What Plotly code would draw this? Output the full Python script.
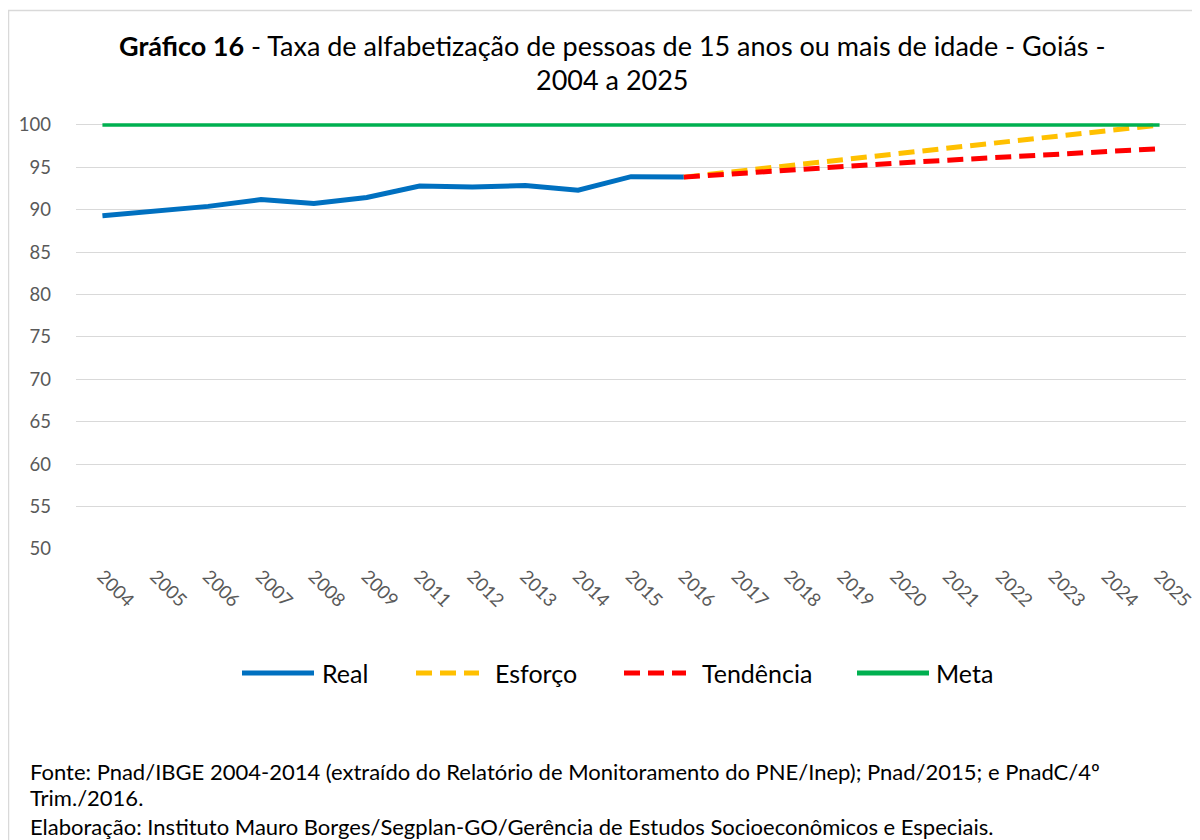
import plotly.graph_objects as go

# ---------------- data ----------------
categories = ["2004", "2005", "2006", "2007", "2008", "2009", "2011", "2012", "2013",
              "2014", "2015", "2016", "2017", "2018", "2019", "2020", "2021", "2022",
              "2023", "2024", "2025"]
real = [89.3, 89.85, 90.4, 91.2, 90.75, 91.45, 92.8, 92.7, 92.85, 92.3, 93.9, 93.85,
        None, None, None, None, None, None, None, None, None]
esforco = [None] * 11 + [93.85, 94.55, 95.25, 95.95, 96.65, 97.35, 98.0, 98.7, 99.35, 100.0]
tendencia = [None] * 11 + [93.85, 94.3, 94.7, 95.1, 95.5, 95.85, 96.2, 96.55, 96.9, 97.2]
meta = [100.0] * 21

series_names = ["Real", "Esforço", "Tendência", "Meta"]
series_colors = ["#0070C0", "#FFC000", "#FF0000", "#00B050"]

title_line1 = "<b>Gráfico 16</b> - Taxa de alfabetização de pessoas de 15 anos ou mais de idade - Goiás -"
title_line2 = "2004 a 2025"
footer_lines = [
    "Fonte: Pnad/IBGE 2004-2014 (extraído do Relatório de Monitoramento do PNE/Inep); Pnad/2015; e PnadC/4º",
    "Trim./2016.",
    "Elaboração: Instituto Mauro Borges/Segplan-GO/Gerência de Estudos Socioeconômicos e Especiais.",
]

# ---------------- layout geometry (reference pixels, page has 8px body margin) ----------------
OFF = 8
W, H = 1200 - OFF, 840 - OFF
PL, PR = 76 - OFF, 1186 - OFF
PB = 549 - OFF
TOP100 = 125 - OFF
Y0, Y1 = 50, 100.35
PT = PB - (Y1 - Y0) * (PB - TOP100) / 50.0
FONT = "Lato, 'Open Sans', sans-serif"


def px(x):
    # x given in reference-picture pixels
    return (x - OFF - PL) / (PR - PL)


def py(y):
    # y given in reference-picture pixels
    return (PB - (y - OFF)) / (PB - PT)


fig = go.Figure()
fig.add_trace(go.Scatter(x=categories, y=real, mode="lines", name=series_names[0],
                         line=dict(color=series_colors[0], width=5)))
fig.add_trace(go.Scatter(x=categories, y=esforco, mode="lines", name=series_names[1],
                         line=dict(color=series_colors[1], width=5, dash="16px,8px")))
fig.add_trace(go.Scatter(x=categories, y=tendencia, mode="lines", name=series_names[2],
                         line=dict(color=series_colors[2], width=5, dash="16px,8px")))
fig.add_trace(go.Scatter(x=categories, y=meta, mode="lines", name=series_names[3],
                         line=dict(color=series_colors[3], width=3.5)))

annotations = [
    dict(text=title_line1, x=px(612), y=py(46), xref="paper", yref="paper",
         showarrow=False, xanchor="center", yanchor="middle",
         font=dict(family=FONT, size=27, color="#000000")),
    dict(text=title_line2, x=px(612), y=py(80), xref="paper", yref="paper",
         showarrow=False, xanchor="center", yanchor="middle",
         font=dict(family=FONT, size=27, color="#000000")),
]
for txt, yy in zip(footer_lines, [771, 797, 826]):
    annotations.append(dict(text=txt, x=px(28), y=py(yy), xref="paper", yref="paper",
                            showarrow=False, xanchor="left", yanchor="middle",
                            font=dict(family=FONT, size=22, color="#000000")))

shapes = [
    dict(type="rect", xref="paper", yref="paper", x0=px(8.5), x1=px(1240),
         y0=py(10.5), y1=py(900), line=dict(color="#D9D9D9", width=1.5),
         fillcolor="rgba(0,0,0,0)", layer="below"),
]

# custom legend
legend_y = 673
legend_items = [
    (242, 314, 320, "solid"),
    (416, 479, 493, "16px,8px"),
    (624, 686, 700, "16px,8px"),
    (857, 929, 934, "solid"),
]
for (lx0, lx1, tx, dash), name, color in zip(legend_items, series_names, series_colors):
    shapes.append(dict(type="line", xref="paper", yref="paper", x0=px(lx0), x1=px(lx1),
                       y0=py(legend_y), y1=py(legend_y),
                       line=dict(color=color, width=5, dash=dash)))
    annotations.append(dict(text=name, x=px(tx), y=py(legend_y), xref="paper", yref="paper",
                            showarrow=False, xanchor="left", yanchor="middle",
                            font=dict(family=FONT, size=25, color="#000000")))

fig.update_layout(
    width=W, height=H, autosize=False,
    margin=dict(l=PL, r=W - PR, t=PT, b=H - PB, pad=0, autoexpand=False),
    paper_bgcolor="#FFFFFF", plot_bgcolor="#FFFFFF",
    showlegend=False,
    annotations=annotations,
    shapes=shapes,
    font=dict(family=FONT),
)
fig.update_xaxes(
    type="category", range=[-0.5, 20.5], tickangle=45,
    showgrid=False, zeroline=False, showline=False, ticks="",
    tickfont=dict(family=FONT, size=18.5, color="#595959"),
    ticklabelstandoff=12,
)
fig.update_yaxes(
    range=[Y0, Y1], tick0=50, dtick=5, showgrid=True, gridcolor="#D9D9D9", gridwidth=1.3,
    zeroline=False, showline=False, ticks="",
    tickfont=dict(family=FONT, size=18.5, color="#595959"),
    ticklabelstandoff=24,
)

fig.write_html("out.html")
